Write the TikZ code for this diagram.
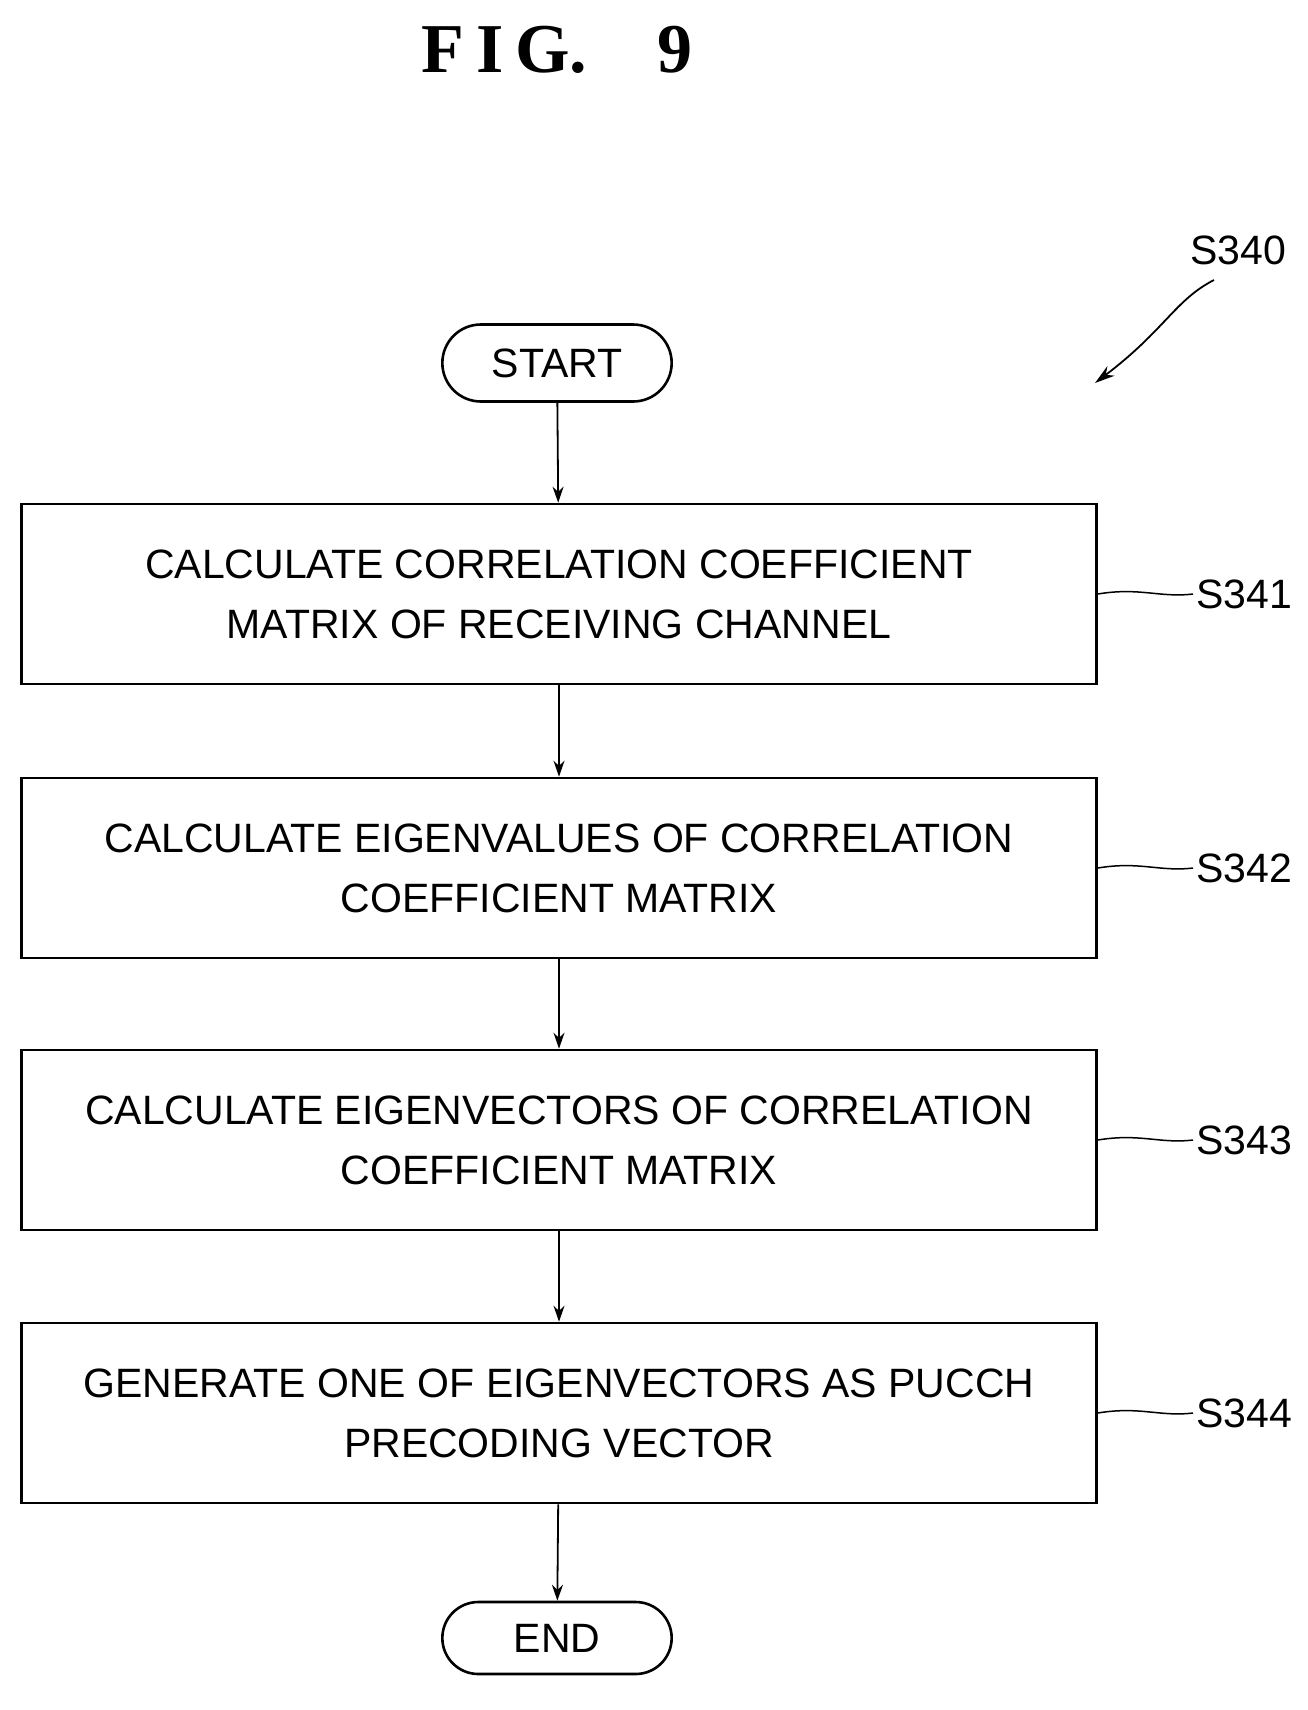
\documentclass[tikz,border=0pt]{standalone}
\usepackage{fontspec}
\setmainfont{Liberation Sans}
\newfontfamily\figfont{Liberation Serif}
\usetikzlibrary{arrows.meta,shapes.misc}
\begin{document}
\begin{tikzpicture}[x=1pt,y=-1pt,
  box/.style={draw,line width=2.6pt,minimum width=1075pt,minimum height=180pt,align=center,font=\fontsize{41}{60}\selectfont},
  term/.style={draw,line width=2.6pt,rounded rectangle,minimum width=236pt,minimum height=77pt,font=\fontsize{41}{48}\selectfont},
  arr/.style={line width=1.8pt,-{Stealth[length=16pt,width=11pt]}},
  lbl/.style={font=\fontsize{41}{48}\selectfont},
  lead/.style={line width=1.5pt}]
\useasboundingbox (0,0) rectangle (1307,1710);
\node[font=\figfont\bfseries\fontsize{70}{80}\selectfont] (fig) at (557,50) {F\,I\,G.\quad 9};
\node[term] (start) at (557,363) {START};
\node[box] (b1) at (559,594) {CALCULATE CORRELATION COEFFICIENT\\MATRIX OF RECEIVING CHANNEL};
\node[box] (b2) at (559,868) {CALCULATE EIGENVALUES OF CORRELATION\\COEFFICIENT MATRIX};
\node[box] (b3) at (559,1140) {CALCULATE EIGENVECTORS OF CORRELATION\\COEFFICIENT MATRIX};
\node[box] (b4) at (559,1413) {GENERATE ONE OF EIGENVECTORS AS PUCCH\\PRECODING VECTOR};
\node[term,minimum height=72pt] (end) at (557,1638) {END};
\draw[arr] (start) -- (b1);
\draw[arr] (b1) -- (b2);
\draw[arr] (b2) -- (b3);
\draw[arr] (b3) -- (b4);
\draw[arr] (b4) -- (end);
\foreach \i/\y in {1/594,2/868,3/1140,4/1413}{
  \node[lbl,anchor=west] (l\i) at (1193,\y) {S34\i};
  \draw[lead] (b\i.east) .. controls (1140,\y-7) and (1160,\y+4) .. (l\i.west);
}
\node[lbl] (s340) at (1238,250) {S340};
\coordinate (s340t) at (1095,383);
\draw[line width=1.8pt,-{Stealth[length=20pt,width=12pt]}] (1214,280) .. controls (1175,300) and (1165,330) .. (s340t);
\end{tikzpicture}
\end{document}
